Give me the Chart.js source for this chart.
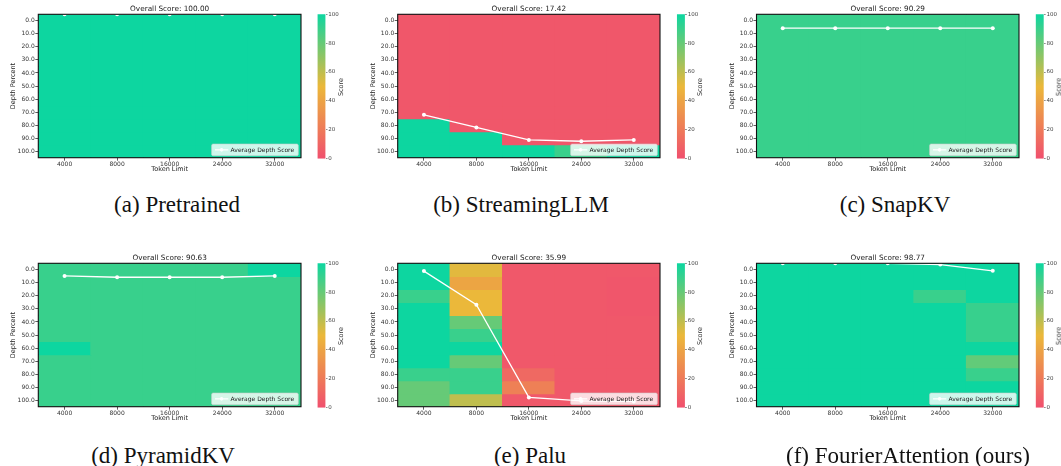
<!DOCTYPE html>
<html>
<head>
<meta charset="utf-8">
<script src="https://cdn.jsdelivr.net/npm/chart.js@4.4.1/dist/chart.umd.min.js"></script>
<style>
  html, body { margin: 0; padding: 0; background: #fff; }
  #fig { position: relative; width: 1061px; height: 466px; overflow: hidden; background: #fff; }
  #fig canvas { position: absolute; }
  .cap { position: absolute; font-family: "Liberation Serif", "Times New Roman", serif; font-size: 23px; color: #111;
         white-space: nowrap; transform: translate(-50%, -50%); line-height: 1; }
  .cbl { position: absolute; font-family: "DejaVu Sans", sans-serif; font-size: 6.5px; color: #333;
         white-space: nowrap; transform: translate(-50%, -50%) rotate(-90deg); line-height: 1; }
</style>
</head>
<body>
<div id="fig"></div>
<script>
// ---- data ----
const tokenLimits = ['4000', '8000', '16000', '24000', '32000'];
const depthPercents = [0, 10, 20, 30, 40, 50, 60, 70, 80, 90, 100];
const scoreTicks = [0, 20, 40, 60, 80, 100];

// scores per depth row (0 % .. 100 %), one value per token limit
const pretrainedScores = [
  [100, 100, 100, 100, 100], [100, 100, 100, 100, 100], [100, 100, 100, 100, 100],
  [100, 100, 100, 100, 100], [100, 100, 100, 100, 100], [100, 100, 100, 100, 100],
  [100, 100, 100, 100, 100], [100, 100, 100, 100, 100], [100, 100, 100, 100, 100],
  [100, 100, 100, 100, 100], [100, 100, 100, 100, 100]
];
const streamingScores = [
  [3.6, 3.6, 3.6, 3.6, 3.6], [3.6, 3.6, 3.6, 3.6, 3.6], [3.6, 3.6, 3.6, 3.6, 3.6],
  [3.6, 3.6, 3.6, 3.6, 3.6], [3.6, 3.6, 3.6, 3.6, 3.6], [3.6, 3.6, 3.6, 3.6, 3.6],
  [3.6, 3.6, 3.6, 3.6, 3.6], [3.6, 3.6, 3.6, 3.6, 3.6], [100, 3.6, 3.6, 3.6, 3.6],
  [100, 100, 3.6, 3.6, 3.6], [100, 100, 100, 90, 100]
];
const snapkvScores = [
  [90.29, 90.29, 90.29, 90.29, 90.29], [90.29, 90.29, 90.29, 90.29, 90.29], [90.29, 90.29, 90.29, 90.29, 90.29],
  [90.29, 90.29, 90.29, 90.29, 90.29], [90.29, 90.29, 90.29, 90.29, 90.29], [90.29, 90.29, 90.29, 90.29, 90.29],
  [90.29, 90.29, 90.29, 90.29, 90.29], [90.29, 90.29, 90.29, 90.29, 90.29], [90.29, 90.29, 90.29, 90.29, 90.29],
  [90.29, 90.29, 90.29, 90.29, 90.29], [90.29, 90.29, 90.29, 90.29, 90.29]
];
const pyramidkvScores = [
  [90.28, 90.28, 90.28, 90.28, 100], [90.28, 90.28, 90.28, 90.28, 90.28], [90.28, 90.28, 90.28, 90.28, 90.28],
  [90.28, 90.28, 90.28, 90.28, 90.28], [90.28, 90.28, 90.28, 90.28, 90.28], [90.28, 90.28, 90.28, 90.28, 90.28],
  [100, 90.28, 90.28, 90.28, 90.28], [90.28, 90.28, 90.28, 90.28, 90.28], [90.28, 90.28, 90.28, 90.28, 90.28],
  [90.28, 90.28, 90.28, 90.28, 90.28], [90.28, 90.28, 90.28, 90.28, 90.28]
];
const paluScores = [
  [100, 52, 4.0, 4.0, 4.0], [100, 41, 4.0, 4.0, 2.8], [90, 50, 4.0, 4.0, 2.8],
  [100, 50, 4.0, 4.0, 2.8], [100, 80, 4.0, 4.0, 4.0], [100, 90, 4.0, 4.0, 4.0],
  [100, 100, 4.0, 4.0, 4.0], [100, 80, 4.0, 4.0, 4.0], [90, 90, 12, 4.0, 4.0],
  [80, 90, 23, 4.0, 4.0], [80, 60, 4.0, 4.0, 4.0]
];
const fourierScores = [
  [100, 100, 100, 100, 100], [100, 100, 100, 100, 100], [100, 100, 100, 90, 100],
  [100, 100, 100, 100, 90.5], [100, 100, 100, 100, 90.5], [100, 100, 100, 100, 90.5],
  [100, 100, 100, 100, 100], [100, 100, 100, 100, 80.9], [100, 100, 100, 100, 90],
  [100, 100, 100, 100, 100], [100, 100, 100, 100, 100]
];

const overallScores = [100.00, 17.42, 90.29, 90.63, 35.99, 98.77];
const panelCaptions = ['(a) Pretrained', '(b) StreamingLLM', '(c) SnapKV',
                       '(d) PyramidKV', '(e) Palu', '(f) FourierAttention (ours)'];
const panelScores = [pretrainedScores, streamingScores, snapkvScores,
                     pyramidkvScores, paluScores, fourierScores];

// ---- styling / layout ----
const FONT = '"DejaVu Sans", sans-serif';
const PLOT_W = 264.2, PLOT_H = 143.4;
const COL_LEFT = [38.3, 397.7, 756.5];
const ROW_TOP = [14.3, 263.3];
const CAPTION_X = [177, 521, 895, 163, 530, 908];
const CAPTION_Y = [204, 455];

// red -> yellow -> teal colour map on 0..100
const CMAP = [[0, [240, 80, 110]], [0.5, [235, 184, 58]], [1, [13, 214, 160]]];
function scoreColor(s) {
  const t = Math.max(0, Math.min(1, s / 100));
  let i = 0;
  while (i < CMAP.length - 2 && t > CMAP[i + 1][0]) i++;
  const [t0, c0] = CMAP[i], [t1, c1] = CMAP[i + 1];
  const f = (t - t0) / (t1 - t0);
  const c = c0.map((v, k) => Math.round(v + (c1[k] - v) * f));
  return `rgb(${c[0]},${c[1]},${c[2]})`;
}

function columnMeans(grid) {
  return tokenLimits.map((_, j) => grid.reduce((acc, row) => acc + row[j], 0) / grid.length);
}

// frame, in-axes legend and panel title
const decorPlugin = {
  id: 'decor',
  afterDatasetsDraw(chart, args, opts) {
    const { ctx, chartArea: a } = chart;
    ctx.save();
    ctx.strokeStyle = '#111';
    ctx.lineWidth = 1.1;
    ctx.strokeRect(a.left, a.top, a.right - a.left, a.bottom - a.top);

    const w = 86.7, h = 11.7;
    const x0 = a.right - 2.7 - w, y0 = a.bottom - 2 - h, cy = y0 + h / 2;
    ctx.beginPath();
    ctx.roundRect(x0, y0, w, h, 1.5);
    ctx.fillStyle = 'rgba(255,255,255,0.8)';
    ctx.fill();
    ctx.strokeStyle = 'rgba(204,204,204,0.8)';
    ctx.lineWidth = 0.7;
    ctx.stroke();
    ctx.strokeStyle = '#fff';
    ctx.lineWidth = 1.3;
    ctx.beginPath();
    ctx.moveTo(x0 + 3.4, cy);
    ctx.lineTo(x0 + 16.7, cy);
    ctx.stroke();
    ctx.fillStyle = '#fff';
    ctx.beginPath();
    ctx.arc(x0 + 10, cy, 1.8, 0, Math.PI * 2);
    ctx.fill();
    ctx.fillStyle = '#222';
    ctx.font = '6px ' + FONT;
    ctx.textAlign = 'left';
    ctx.textBaseline = 'middle';
    ctx.fillText(opts.legendText, x0 + 19, cy + 0.3);

    ctx.font = '7.3px ' + FONT;
    ctx.textAlign = 'center';
    ctx.fillStyle = '#222';
    ctx.fillText(opts.title, (a.left + a.right) / 2, a.top - 5.3);
    ctx.restore();
  }
};

const fig = document.getElementById('fig');
function addCanvas(left, top, w, h) {
  const c = document.createElement('canvas');
  c.width = w; c.height = h;
  c.style.left = left + 'px'; c.style.top = top + 'px';
  c.style.width = w + 'px'; c.style.height = h + 'px';
  fig.appendChild(c);
  return c;
}

panelScores.forEach((grid, p) => {
  const col = p % 3, row = Math.floor(p / 3);
  const PL = COL_LEFT[col], PT = ROW_TOP[row];

  // ---- heatmap + average line ----
  const cLeft = Math.floor(PL) - 38, cTop = Math.floor(PT) - 14;
  const yW = PL - cLeft, padTop = PT - cTop;
  const cW = Math.ceil(yW + PLOT_W + 2), cH = Math.ceil(padTop + PLOT_H + 15.5 + 1);
  const padRight = cW - yW - PLOT_W, padBottom = cH - padTop - PLOT_H - 15.5;
  const half = (depthPercents[1] - depthPercents[0]) / 2;

  const cellSets = depthPercents.map((d, i) => ({
    type: 'bar',
    data: tokenLimits.map(() => [d - half, d + half]),
    backgroundColor: grid[i].map(scoreColor),
    borderWidth: 0,
    inflateAmount: 0.6,
    grouped: false,
    barPercentage: 1,
    categoryPercentage: 1,
    yAxisID: 'y',
    order: 2
  }));
  const lineSet = {
    type: 'line',
    label: 'Average Depth Score',
    data: columnMeans(grid),
    yAxisID: 'yl',
    borderColor: '#fff',
    borderWidth: 1.3,
    pointRadius: 2,
    pointBackgroundColor: '#fff',
    pointBorderWidth: 0,
    tension: 0,
    clip: 0,
    order: 0
  };

  const tickFont = { family: FONT, size: 6 };
  const titleFont = { family: FONT, size: 6.5 };
  new Chart(addCanvas(cLeft, cTop, cW, cH), {
    type: 'bar',
    data: { labels: tokenLimits, datasets: [...cellSets, lineSet] },
    options: {
      responsive: false, animation: false, devicePixelRatio: 1,
      layout: { padding: { left: 0, top: padTop, right: padRight, bottom: padBottom } },
      plugins: {
        legend: { display: false }, tooltip: { enabled: false }, title: { display: false },
        decor: { title: 'Overall Score: ' + overallScores[p].toFixed(2), legendText: lineSet.label }
      },
      scales: {
        x: {
          type: 'category', offset: true,
          grid: { offset: false, drawOnChartArea: false, drawTicks: true, tickLength: 3, color: '#333', lineWidth: 0.8 },
          border: { display: false },
          ticks: { font: tickFont, color: '#333', padding: 0.5, maxRotation: 0, autoSkip: false },
          title: { display: true, text: 'Token Limit', font: titleFont, color: '#222', padding: { top: 0, bottom: 0.3 } },
          afterFit: (s) => { s.height = 15.5; }
        },
        y: {
          type: 'linear', reverse: true,
          min: depthPercents[0] - half, max: depthPercents[depthPercents.length - 1] + half,
          afterBuildTicks: (s) => { s.ticks = depthPercents.map(v => ({ value: v })); },
          grid: { drawOnChartArea: false, drawTicks: true, tickLength: 3, color: '#333', lineWidth: 0.8 },
          border: { display: false },
          ticks: { font: tickFont, color: '#333', padding: 0.5, callback: (v) => Number(v).toFixed(1) },
          title: { display: true, text: 'Depth Percent', font: titleFont, color: '#222',
                   padding: { top: yW - 24.5 - 3.9, bottom: 0 } },
          afterFit: (s) => { s.width = yW; }
        },
        yl: { type: 'linear', display: false, min: 0, max: 100 }
      }
    },
    plugins: [decorPlugin]
  });

  // ---- colour bar ----
  const CL = PL + PLOT_W + 15, cbW = 8, cbH = PLOT_H + 1;
  const bLeft = Math.floor(CL) - 1, bTop = Math.floor(PT) - 4;
  const bPadL = CL - bLeft, bPadT = PT - bTop;
  const bW = Math.ceil(bPadL + cbW + 20 + 1), bH = Math.ceil(bPadT + cbH + 4);
  new Chart(addCanvas(bLeft, bTop, bW, bH), {
    type: 'bar',
    data: {
      labels: [''],
      datasets: [{
        data: [[scoreTicks[0], scoreTicks[scoreTicks.length - 1]]],
        backgroundColor: (ctx) => {
          const area = ctx.chart.chartArea;
          if (!area) return scoreColor(50);
          const g = ctx.chart.ctx.createLinearGradient(0, area.bottom, 0, area.top);
          for (let k = 0; k <= 20; k++) g.addColorStop(k / 20, scoreColor(k * 5));
          return g;
        },
        borderWidth: 0, barPercentage: 1, categoryPercentage: 1
      }]
    },
    options: {
      responsive: false, animation: false, devicePixelRatio: 1,
      layout: { padding: { left: bPadL, top: bPadT, right: bW - bPadL - cbW - 20, bottom: bH - bPadT - cbH } },
      plugins: { legend: { display: false }, tooltip: { enabled: false } },
      scales: {
        x: { display: false, offset: true },
        y: {
          position: 'right', min: 0, max: 100,
          afterBuildTicks: (s) => { s.ticks = scoreTicks.map(v => ({ value: v })); },
          grid: { drawOnChartArea: false, drawTicks: true, tickLength: 2, color: '#444', lineWidth: 0.6 },
          border: { display: false },
          ticks: { font: { family: FONT, size: 5.5 }, color: '#444', padding: 0.8 },
          afterFit: (s) => { s.width = 20; }
        }
      }
    }
  });

  const lab = document.createElement('div');
  lab.className = 'cbl';
  lab.textContent = 'Score';
  lab.style.left = (CL + cbW + 15) + 'px';
  lab.style.top = (PT + cbH / 2) + 'px';
  fig.appendChild(lab);

  const cap = document.createElement('div');
  cap.className = 'cap';
  cap.textContent = panelCaptions[p];
  cap.style.left = CAPTION_X[p] + 'px';
  cap.style.top = CAPTION_Y[row] + 'px';
  fig.appendChild(cap);
});
</script>
</body>
</html>
